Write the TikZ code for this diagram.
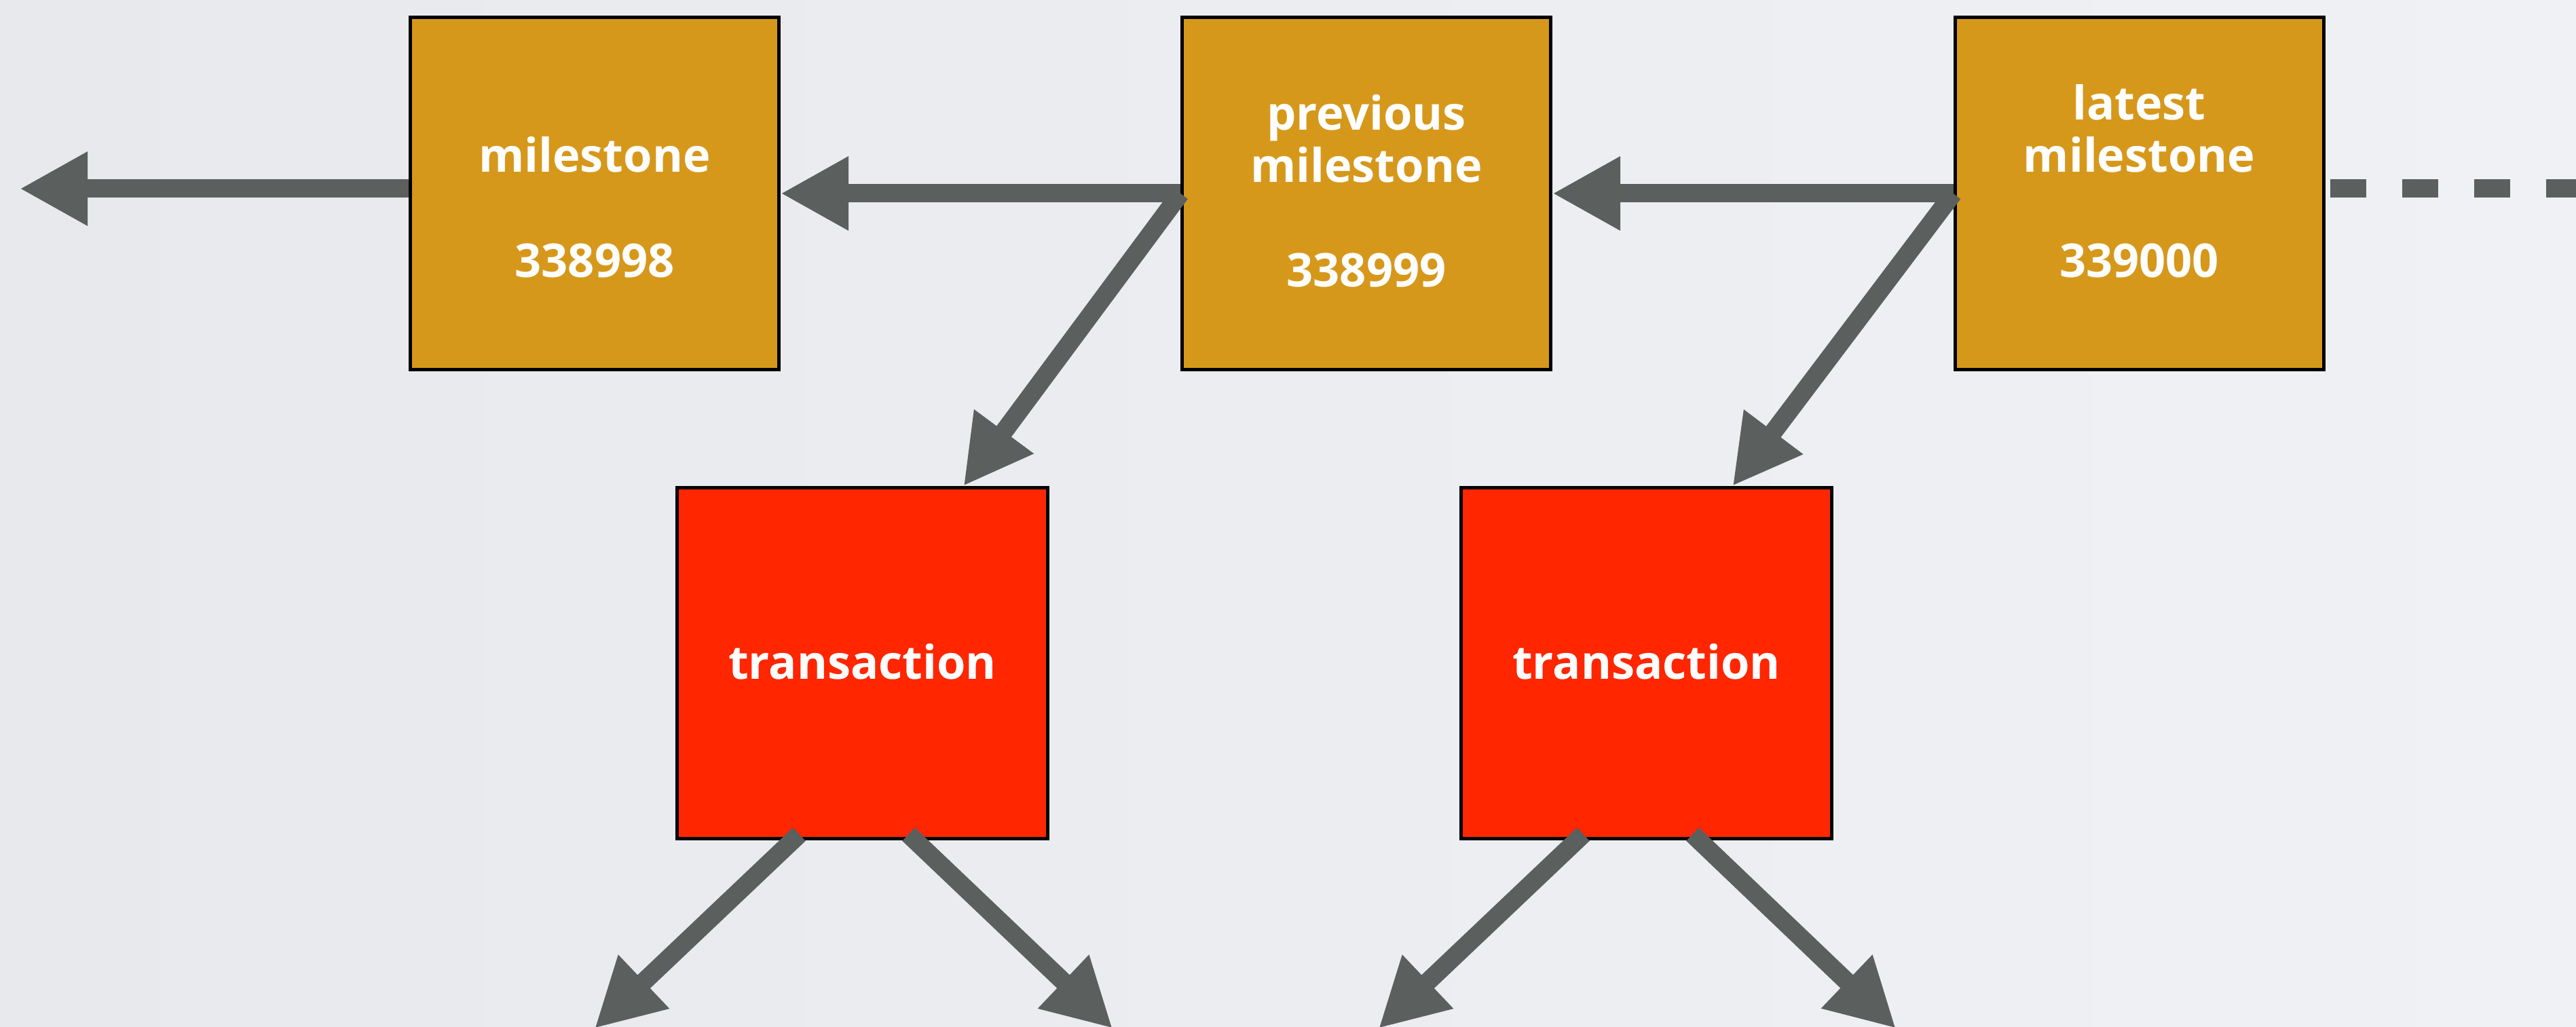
\documentclass[tikz,border=0pt]{standalone}
\usepackage{fontspec}
\setmainfont{Open Sans}
\usetikzlibrary{arrows.meta}
\definecolor{bgL}{HTML}{E7E9EC}
\definecolor{bgR}{HTML}{F0F1F4}
\definecolor{gold}{HTML}{D6981B}
\definecolor{txred}{HTML}{FF2600}
\definecolor{arrowgray}{HTML}{5B5F5D}
\tikzset{
  msbox/.style={draw=black, line width=0.05cm, fill=gold, minimum width=5.43cm, minimum height=5.19cm, inner sep=0pt},
  txbox/.style={draw=black, line width=0.05cm, fill=txred, minimum width=5.46cm, minimum height=5.17cm, inner sep=0pt},
  lbl/.style={anchor=base, text=white, inner sep=0pt, font=\fontsize{19.5}{23}\selectfont\bfseries},
  conn/.style={draw=arrowgray, line width=0.27cm, -{Triangle[length=1cm,width=1.02cm]}},
  dashline/.style={draw=arrowgray, line width=0.27cm, dash pattern=on 0.53cm off 0.53cm}
}
\begin{document}
\begin{tikzpicture}[x=1cm,y=1cm]
\useasboundingbox (0,0) rectangle (37.95,-15.13);
\clip (0,0) rectangle (37.95,-15.13);
\shade[left color=bgL, right color=bgR] (0,0) rectangle (37.95,-15.13);

% milestone boxes
\node[msbox] (m1) at (8.76,-2.85) {};
\node[msbox] (m2) at (20.13,-2.85) {};
\node[msbox] (m3) at (31.515,-2.85) {};
% transaction boxes
\node[txbox] (t1) at (12.705,-9.77) {};
\node[txbox] (t2) at (24.255,-9.77) {};

% labels
\node[lbl] (m1a) at (8.76,-2.54) {milestone};
\node[lbl] (m1b) at (8.76,-4.09) {338998};
\node[lbl] (m2a) at (20.13,-1.92) {previous};
\node[lbl] (m2b) at (20.13,-2.69) {milestone};
\node[lbl] (m2c) at (20.13,-4.23) {338999};
\node[lbl] (m3a) at (31.515,-1.77) {latest};
\node[lbl] (m3b) at (31.515,-2.54) {milestone};
\node[lbl] (m3c) at (31.515,-4.09) {339000};
\node[lbl] (t1a) at (12.705,-10.00) {transaction};
\node[lbl] (t2a) at (24.255,-10.00) {transaction};

% free ends
\coordinate (e0) at (0.29,-2.78);
\coordinate (edash) at (38.2,-2.78);
\coordinate (b1) at (8.76,-15.15);
\coordinate (b2) at (16.39,-15.15);
\coordinate (b3) at (20.31,-15.15);
\coordinate (b4) at (27.93,-15.15);

% connectors
\draw[conn] ([yshift=0.07cm]m1.west) -- (e0);
\draw[conn] (m2.west) -- (m1.east);
\draw[conn] (m2.west) -- ([xshift=1.49cm]t1.north);
\draw[conn] (m3.west) -- (m2.east);
\draw[conn] (m3.west) -- ([xshift=1.27cm]t2.north);
\draw[dashline] ([shift={(0.07cm,0.07cm)}]m3.east) -- (edash);

\draw[conn] ([shift={(-0.93cm,0.09cm)}]t1.south) -- (b1);
\draw[conn] ([shift={(0.68cm,0.09cm)}]t1.south) -- (b2);
\draw[conn] ([shift={(-0.93cm,0.09cm)}]t2.south) -- (b3);
\draw[conn] ([shift={(0.68cm,0.09cm)}]t2.south) -- (b4);
\end{tikzpicture}
\end{document}
